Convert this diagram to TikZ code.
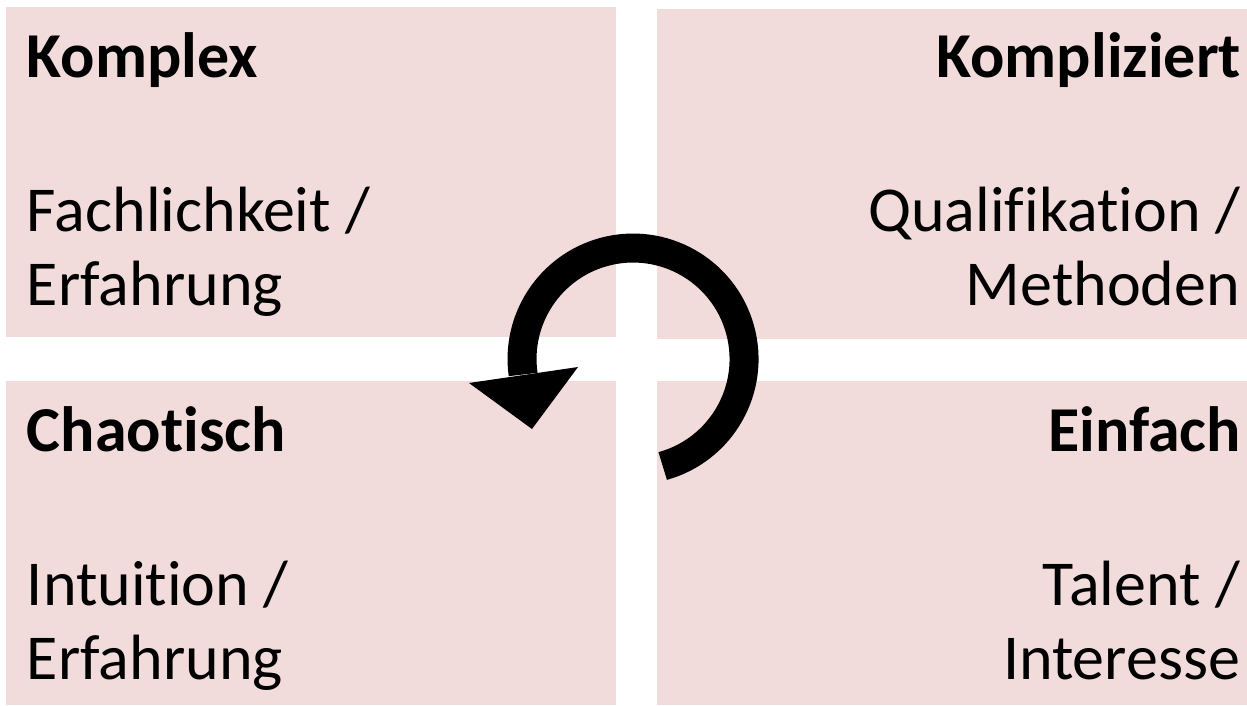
\documentclass[tikz,border=0pt]{standalone}
\usepackage{fontspec}
\setmainfont[Ligatures={NoCommon}]{Carlito}
\definecolor{boxpink}{HTML}{F2DCDB}
\begin{document}
\begin{tikzpicture}[x=1pt,y=-1pt,
  quad/.style={fill=boxpink, draw=none, inner sep=0pt, outer sep=0pt, anchor=north west},
  head/.style={font=\fontsize{64}{64}\selectfont\bfseries, inner sep=0pt, outer sep=0pt},
  body/.style={font=\fontsize{64}{64}\selectfont, inner sep=0pt, outer sep=0pt}]
\useasboundingbox (0,0) rectangle (1247,705);
\fill[white] (0,0) rectangle (1247,705);
% quadrants
\node[quad, minimum width=610pt, minimum height=330pt] (tl) at (6,7) {};
\node[quad, minimum width=590pt, minimum height=330pt] (tr) at (657,9) {};
\node[quad, minimum width=610pt, minimum height=324pt] (bl) at (6,381) {};
\node[quad, minimum width=590pt, minimum height=324pt] (br) at (657,381) {};
% texts top left
\node[head, anchor=base west] (tlh) at (27,77) {Komplex};
\node[body, anchor=base west] (tl1) at (27,231) {Fachlichkeit /};
\node[body, anchor=base west] (tl2) at (27,305) {Erfahrung};
% top right
\node[head, anchor=base east] (trh) at (1241,77) {Kompliziert};
\node[body, anchor=base east] (tr1) at (1240,231) {Qualifikation /};
\node[body, anchor=base east] (tr2) at (1240,305) {Methoden};
% bottom left
\node[head, anchor=base west] (blh) at (27,451) {Chaotisch};
\node[body, anchor=base west] (bl1) at (27,605) {Intuition /};
\node[body, anchor=base west] (bl2) at (27,679) {Erfahrung};
% bottom right
\node[head, anchor=base east] (brh) at (1241,451) {Einfach};
\node[body, anchor=base east] (br1) at (1240,605) {Talent /};
\node[body, anchor=base east] (br2) at (1240,679) {Interesse};
% cycle arrow
\draw[line width=29pt, line cap=butt] (662.7,466) arc[start angle=74.5, end angle=-188, radius=111];
\fill (469,383) -- (578,367) -- (532,429) -- cycle;
\end{tikzpicture}
\end{document}
